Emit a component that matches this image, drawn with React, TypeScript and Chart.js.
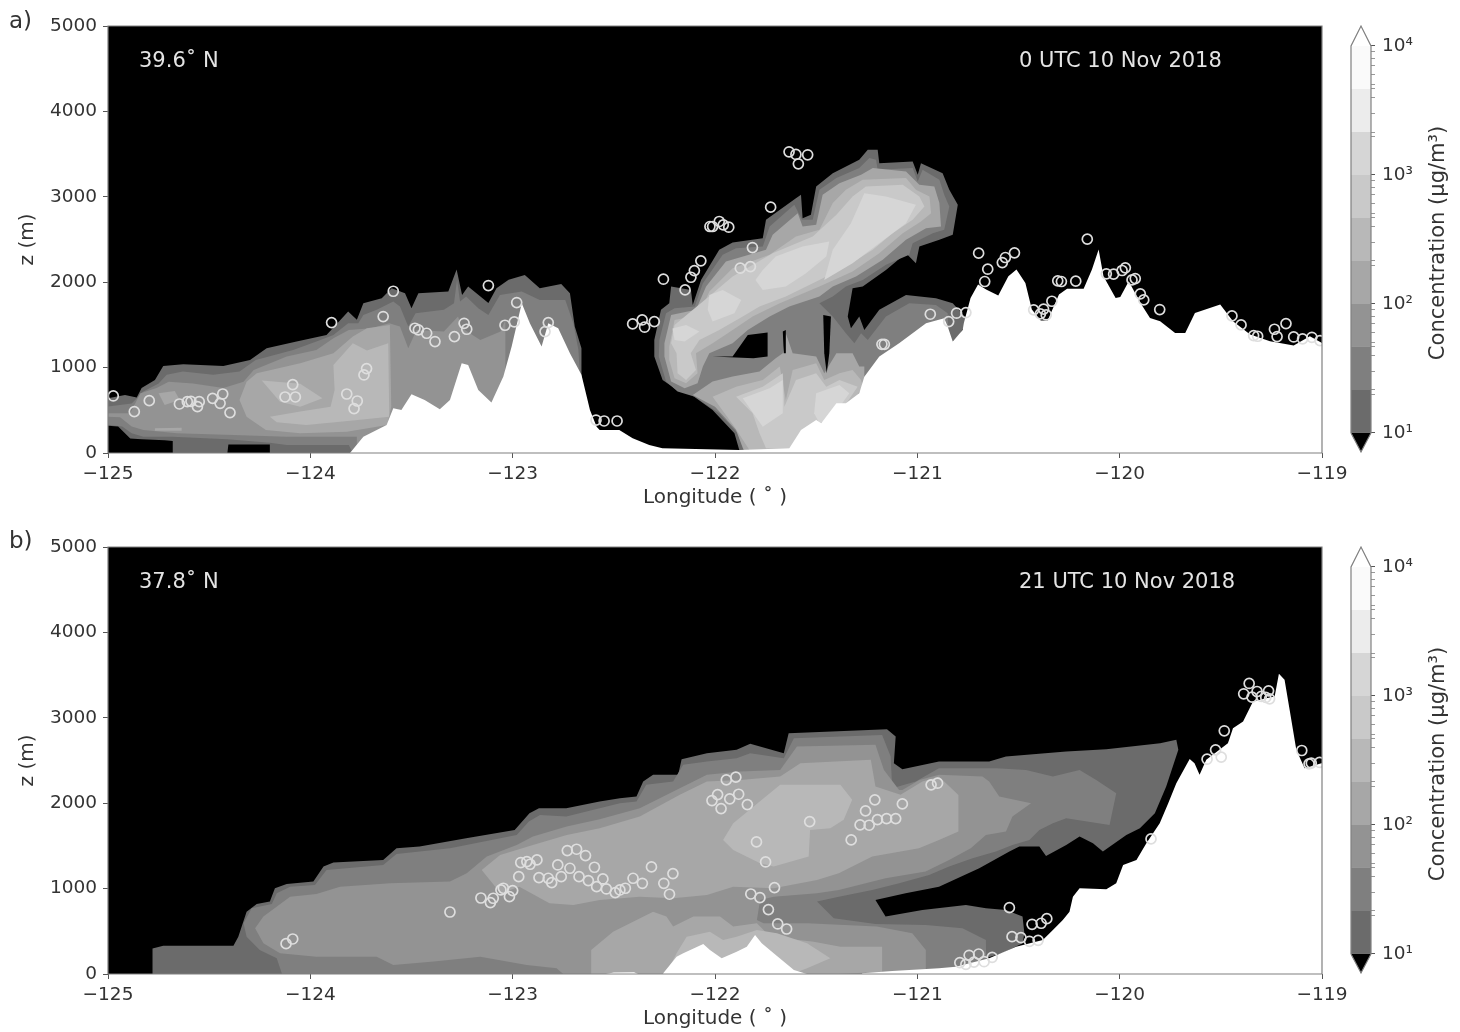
import React, { useEffect, useRef } from "react";
import { Chart, registerables } from "chart.js";

Chart.register(...registerables);

// ---- shared values ----
const LON_RANGE = [-125, -119];
const Z_RANGE = [0, 5000];
const LEVELS = [10, 21.54, 46.42, 100, 215.4, 464.2, 1000, 2154, 4642, 10000];
const BAND_COLORS = ["#000000", "#6b6b6b", "#7f7f7f", "#939393", "#a7a7a7", "#b8b8b8", "#c9c9c9", "#d6d6d6", "#ececec", "#fafafa"];
const CB_TICKS = [10, 20, 21.54, 30, 40, 46.42, 50, 60, 70, 80, 90, 100, 200, 215.4, 300, 400, 464.2, 500, 600, 700, 800, 900, 1000, 2000, 2154, 3000, 4000, 4642, 5000, 6000, 7000, 8000, 9000, 10000];
const CB_LABELS: Record<number, string> = { 10: "10¹", 100: "10²", 1000: "10³", 10000: "10⁴" };
const CB_OVER = 14290;
const CB_UNDER = 7.12;

// ---- panel a: contour outlines as lon, z pairs ----
const A1_WEST = [-125,640,-124.916,680,-124.858,650,-124.834,760,-124.768,855,-124.727,1020,-124.628,1040,-124.43,1020,-124.298,1090,-124.216,1227,-124.068,1305,-123.92,1383,-123.813,1656,-123.77,1559,-123.738,1754,-123.647,1813,-123.598,1930,-123.532,1870,-123.5,1695,-123.466,1871,-123.318,1890,-123.277,2150,-123.25,1850,-123.22,1950,-123.12,1755,-123.08,1930,-123.02,2030,-122.94,2085,-122.866,1930,-122.76,1980,-122.717,1870,-122.693,1480,-122.66,1227,-122.66,0,-124.2,0,-124.2,100,-124.405,100,-124.41,0,-124.68,0,-124.68,140,-124.72,150,-124.834,160,-124.89,170,-124.95,310,-125,320];
const A2_WEST = [-125,545,-124.883,580,-124.825,720,-124.75,815,-124.71,915,-124.63,955,-124.48,915,-124.35,955,-124.27,1090,-124.085,1207,-123.97,1305,-123.886,1383,-123.813,1520,-123.763,1520,-123.738,1617,-123.672,1676,-123.59,1773,-123.557,1715,-123.516,1480,-123.48,1637,-123.34,1676,-123.29,1754,-123.275,2030,-123.26,1773,-123.23,1832,-123.17,1695,-123.12,1617,-123.063,1850,-122.955,1890,-122.866,1793,-122.74,1793,-122.7,1520,-122.675,1207,-122.67,1010,-122.67,0,-123.79,0,-123.81,95,-124.117,95,-124.2,120,-124.41,160,-124.68,190,-124.825,190,-124.883,230,-124.93,310,-125,330];
const A3_WEST = [-125,465,-124.89,465,-124.84,700,-124.76,760,-124.7,835,-124.58,815,-124.43,760,-124.33,835,-124.28,973,-124.117,1129,-123.97,1207,-123.886,1344,-123.81,1441,-123.7,1461,-123.61,1520,-123.557,1480,-123.516,1227,-123.475,1441,-123.34,1422,-123.27,1598,-123.25,1461,-123.16,1324,-123.06,1422,-123.036,1559,-123.036,0,-123.77,0,-123.77,190,-124.117,190,-124.38,210,-124.66,230,-124.825,270,-124.883,310,-124.94,420,-125,425];
const A4_WEST = [-124.315,835,-124.265,933,-124.05,1050,-123.886,1168,-123.79,1363,-123.72,1461,-123.607,1500,-123.6,543,-123.62,328,-123.82,250,-124.05,230,-124.22,270,-124.315,425,-124.35,620];
const A4_BLOB = [-124.75,700,-124.67,727,-124.645,620,-124.72,562];
const A4_STRIP = [-124.768,290,-124.636,297,-124.636,262,-124.768,262];
const A5_WEST = [-123.886,1031,-123.79,1285,-123.72,1200,-123.615,1285,-123.61,425,-123.79,380,-124.02,328,-124.166,360,-124.2,425,-124.05,485,-123.9,543,-123.88,738];
const A5_WEDGE = [-124.24,848,-124.05,810,-123.94,640,-124.05,543,-124.15,600];
const A1_PLUME = [-121.88,35,-121.904,230,-122.012,504,-122.127,700,-122.2,758,-122.259,855,-122.3,1129,-122.3,1324,-122.267,1676,-122.226,1754,-122.217,1949,-122.119,1910,-122.11,1734,-122.069,2027,-121.979,2379,-121.913,2465,-121.764,2515,-121.748,2730,-121.6,2984,-121.575,3023,-121.567,2750,-121.526,2789,-121.5,3121,-121.418,3277,-121.287,3433,-121.245,3550,-121.196,3550,-121.188,3394,-121.023,3414,-120.998,3258,-120.982,3394,-120.875,3277,-120.842,3082,-120.8,2906,-120.825,2555,-120.891,2496,-120.99,2418,-121.007,2222,-121.056,2340,-121.155,2144,-121.27,1949,-121.32,1930,-121.344,1598,-121.328,1461,-121.287,1598,-121.262,1441,-121.188,1676,-121.056,1851,-120.908,1812,-120.825,1754,-120.751,1558,-120.792,1383,-120.825,1305,-120.825,1168,-121.32,152,-121.616,16];
const A2_PLUME = [-121.863,55,-121.888,230,-121.979,465,-122.1,660,-122.185,719,-122.242,836,-122.278,1129,-122.275,1324,-122.242,1637,-122.2,1695,-122.1,1715,-122.06,1988,-121.962,2320,-121.896,2398,-121.764,2418,-121.73,2652,-121.608,2906,-121.57,2730,-121.517,2730,-121.484,3082,-121.4,3219,-121.287,3336,-121.237,3453,-121.204,3433,-121.196,3316,-121.023,3336,-120.998,3180,-120.974,3316,-120.891,3199,-120.867,3023,-120.842,2887,-120.867,2613,-120.924,2574,-121.023,2457,-121.04,2320,-121.155,2203,-121.27,2027,-121.353,1949,-121.418,1832,-121.484,1754,-121.418,1598,-121.353,1402,-121.311,1285,-121.278,1402,-121.245,1324,-121.155,1598,-121.04,1754,-120.908,1734,-120.85,1637,-120.842,1168,-121.32,152,-121.6,16];
const A3_UPPER = [-122.25,1129,-122.25,1285,-122.217,1617,-122.094,1676,-122.044,1949,-121.946,2242,-121.748,2379,-121.715,2555,-121.591,2808,-121.567,2652,-121.5,2672,-121.468,3023,-121.385,3160,-121.278,3258,-121.22,3336,-121.056,3297,-120.99,3140,-120.916,3121,-120.891,2926,-120.883,2652,-120.957,2633,-121.056,2496,-121.171,2262,-121.303,2066,-121.418,1949,-121.484,1832,-121.633,1715,-121.73,1598,-121.838,1441,-121.913,1285,-122.028,1168,-122.06,1012,-122.086,816,-122.15,758,-122.217,836];
const A3_LOWER = [-122.11,680,-122.012,836,-121.913,895,-121.78,953,-121.7,1109,-121.665,1168,-121.65,1402,-121.616,1168,-121.5,1129,-121.46,934,-121.4,1168,-121.32,1168,-121.287,1012,-121.262,1012,-121.262,777,-121.418,152,-121.616,16,-121.855,16,-121.896,270,-122,543];
const A4_UPPER = [-122.226,1246,-122.2,1558,-122.077,1617,-122.028,1890,-121.913,2164,-121.73,2320,-121.6,2535,-121.484,2613,-121.418,2926,-121.353,3082,-121.27,3199,-121.056,3219,-121.007,3082,-120.94,3004,-120.932,2808,-120.982,2711,-121.072,2574,-121.188,2340,-121.32,2125,-121.484,1949,-121.68,1754,-121.814,1598,-121.913,1441,-122.012,1285,-122.094,1168,-122.086,934,-122.143,816,-122.2,875,-122.226,1090];
const A4_LOWER = [-122.012,660,-121.896,777,-121.764,855,-121.68,1012,-121.65,621,-121.616,973,-121.5,1050,-121.46,855,-121.385,934,-121.32,973,-121.278,855,-121.27,777,-121.4,308,-121.6,35,-121.83,35,-121.904,308];
const A5_UPPER = [-122.2,1500,-122.03,1832,-121.913,2066,-121.715,2340,-121.517,2535,-121.4,2789,-121.32,3004,-121.254,3121,-121.072,3140,-120.99,3004,-120.965,2887,-121.023,2730,-121.122,2574,-121.22,2379,-121.353,2184,-121.484,2027,-121.65,1832,-121.78,1715,-121.863,1598,-121.979,1441,-122.077,1324,-122.12,1168,-122.094,973,-122.143,855,-122.185,934,-122.19,1168,-122.217,1285];
const A5_LOWER = [-121.896,660,-121.764,777,-121.665,934,-121.657,543,-121.6,855,-121.5,934,-121.45,777,-121.385,855,-121.295,777,-121.418,348,-121.583,230,-121.633,55,-121.748,55,-121.78,230,-121.814,465];
const A6_BLOB_A = [-122.21,1457,-122.143,1500,-122.077,1422,-122.15,1305,-122.2,1324];
const A6_BLOB_B = [-122.028,1851,-121.962,1910,-121.87,1793,-121.904,1637,-122.012,1539,-122.036,1676];
const A6_BLOB_C = [-121.764,2144,-121.7,2300,-121.567,2418,-121.435,2476,-121.45,2300,-121.55,2105,-121.65,1949,-121.764,1910,-121.8,2027];
const A6_BLOB_D = [-121.46,2027,-121.418,2379,-121.328,2691,-121.262,3043,-121.155,3004,-121.007,2906,-121.056,2691,-121.188,2457,-121.32,2222];
const A6_LOW_E = [-121.5,700,-121.385,797,-121.336,700,-121.418,426,-121.484,348,-121.51,465];
const A6_LOW_W = [-121.863,640,-121.73,758,-121.665,855,-121.665,465,-121.764,308,-121.8,426];
const A0_HOLE = [-122.012,1129,-121.913,1129,-121.838,1383,-121.74,1410,-121.74,1129,-121.81,1110];
const A0_SLIVER = [-121.665,1422,-121.65,1441,-121.65,1168,-121.66,1168];
const A0_SLIT = [-121.465,1617,-121.427,1598,-121.435,1168,-121.448,934,-121.46,1168];
const A_TERRAIN = [-123.804,0,-123.738,190,-123.623,328,-123.59,523,-123.55,504,-123.5,688,-123.435,621,-123.36,512,-123.31,621,-123.252,1050,-123.22,1030,-123.17,738,-123.105,590,-123.046,895,-123.005,1246,-122.955,1754,-122.915,1520,-122.857,1246,-122.824,1520,-122.775,1461,-122.717,1168,-122.66,915,-122.618,504,-122.585,308,-122.57,270,-122.473,270,-122.407,172,-122.325,94,-122.26,55,-121.88,35,-121.633,55,-121.575,270,-121.5,387,-121.475,348,-121.4,582,-121.353,582,-121.287,700,-121.262,894,-121.188,1129,-121.09,1285,-120.957,1519,-120.867,1578,-120.85,1480,-120.825,1305,-120.776,1441,-120.77,1523,-120.737,1816,-120.7,1972,-120.66,1914,-120.6,1844,-120.55,2070,-120.51,2148,-120.466,1992,-120.434,1680,-120.39,1551,-120.356,1551,-120.3,1855,-120.26,1922,-120.178,1922,-120.137,2148,-120.104,2383,-120.08,2070,-120.02,1816,-119.997,1828,-119.955,2012,-119.898,1758,-119.85,1582,-119.8,1543,-119.726,1406,-119.676,1406,-119.628,1640,-119.503,1738,-119.44,1543,-119.355,1387,-119.257,1308,-119.14,1258,-119.06,1367,-119,1289,-119,0];
const A_OBS = [-124.974,668,-124.87,484,-124.796,613,-124.647,574,-124.608,601,-124.59,605,-124.549,601,-124.558,543,-124.483,640,-124.433,691,-124.446,582,-124.397,473,-124.087,801,-124.125,656,-124.074,656,-123.82,691,-123.768,609,-123.784,520,-123.722,988,-123.735,914,-123.895,1527,-123.64,1598,-123.59,1894,-123.483,1461,-123.466,1441,-123.425,1402,-123.384,1305,-123.288,1363,-123.24,1519,-123.227,1449,-123.12,1961,-123.038,1496,-122.992,1535,-122.98,1762,-122.824,1527,-122.84,1422,-122.588,386,-122.548,375,-122.484,375,-122.407,1512,-122.36,1558,-122.348,1473,-122.3,1539,-122.255,2035,-122.148,1910,-122.119,2058,-122.102,2136,-122.07,2250,-122.025,2652,-122.012,2652,-121.979,2711,-121.959,2672,-121.932,2644,-121.815,2406,-121.875,2164,-121.825,2183,-121.725,2879,-121.634,3527,-121.6,3496,-121.588,3386,-121.542,3492,-121.163,1273,-121.175,1273,-120.936,1625,-120.845,1539,-120.806,1637,-120.76,1644,-120.697,2340,-120.652,2152,-120.58,2230,-120.565,2289,-120.52,2344,-120.667,2008,-120.425,1676,-120.392,1629,-120.376,1684,-120.363,1617,-120.335,1777,-120.306,2016,-120.288,2008,-120.217,2012,-120.16,2504,-120.066,2098,-120.03,2094,-119.988,2137,-119.972,2168,-119.939,2027,-119.923,2043,-119.898,1863,-119.881,1793,-119.802,1680,-119.445,1605,-119.4,1500,-119.338,1375,-119.318,1367,-119.235,1449,-119.222,1363,-119.178,1515,-119.14,1359,-119.096,1336,-119.05,1355,-119.01,1316];

// ---- panel b: contour outlines as lon, z pairs ----
const B1_MAIN = [-124.78,0,-124.78,300,-124.727,332,-124.38,332,-124.356,437,-124.315,730,-124.265,820,-124.2,848,-124.175,1004,-124.117,1055,-123.985,1082,-123.935,1258,-123.886,1305,-123.64,1336,-123.574,1473,-123.46,1492,-123.23,1590,-122.99,1687,-122.917,1883,-122.87,1941,-122.735,1941,-122.57,2019,-122.47,2058,-122.388,2078,-122.355,2254,-122.306,2332,-122.182,2332,-122.165,2515,-122.04,2586,-121.893,2625,-121.826,2695,-121.66,2586,-121.636,2820,-121.15,2867,-121.107,2781,-121.116,2469,-121.074,2398,-120.893,2488,-120.645,2488,-120.562,2547,-120.264,2605,-120.066,2633,-119.8,2703,-119.72,2742,-119.71,2625,-119.77,2195,-119.826,1883,-119.9,1707,-119.967,1629,-120.083,1433,-120.132,1531,-120.198,1609,-120.264,1512,-120.364,1383,-120.397,1492,-120.496,1492,-120.545,1433,-120.694,1238,-120.893,1023,-121.058,945,-121.207,867,-121.157,672,-120.975,750,-120.76,808,-120.661,769,-120.562,750,-120.48,672,-120.471,476,-120.48,360,-120.58,242,-120.81,86,-121.09,8,-121.09,0];
const B2_MAIN = [-124.14,0,-124.166,184,-124.25,281,-124.315,437,-124.33,594,-124.29,770,-124.19,820,-124.166,945,-124.1,1023,-123.977,1043,-123.92,1219,-123.64,1277,-123.574,1406,-123.31,1473,-122.98,1629,-122.92,1785,-122.865,1863,-122.735,1844,-122.57,1941,-122.47,2000,-122.388,2020,-122.34,2215,-122.207,2254,-122.157,2449,-122.04,2488,-121.893,2527,-121.826,2586,-121.66,2527,-121.61,2762,-121.174,2800,-121.132,2547,-121.124,2176,-121.008,2254,-120.893,2410,-120.727,2410,-120.61,2410,-120.463,2390,-120.33,2312,-120.198,2390,-120.116,2273,-120.017,2117,-120.05,1746,-120.264,1824,-120.33,1765,-120.397,1687,-120.446,1570,-120.53,1512,-120.612,1433,-120.727,1355,-120.843,1258,-120.942,1160,-121.09,1062,-121.223,984,-121.388,906,-121.496,848,-121.413,652,-121.207,586,-120.958,574,-120.777,535,-120.661,398,-120.66,66,-121.09,0];
const B3_MAIN = [-124.273,535,-124.232,672,-124.1,906,-123.97,937,-123.853,1023,-123.606,1062,-123.31,1082,-123.227,1180,-123.128,1375,-122.98,1512,-122.9,1609,-122.733,1726,-122.57,1812,-122.372,1941,-122.174,2176,-122.04,2332,-121.876,2371,-121.678,2390,-121.595,2664,-121.207,2683,-121.165,2390,-121.09,2156,-121.074,2156,-120.99,2273,-120.893,2332,-120.678,2312,-120.645,2254,-120.595,2078,-120.438,2000,-120.53,1844,-120.562,1668,-120.661,1629,-120.736,1473,-120.843,1336,-120.959,1200,-121.157,1121,-121.388,984,-121.496,945,-121.71,906,-121.777,867,-121.793,633,-121.76,594,-121.545,594,-121.2,555,-121.025,477,-120.958,281,-120.958,47,-121.174,8,-121.174,0,-122.75,0,-122.783,66,-122.93,105,-123.16,203,-123.39,145,-123.59,105,-123.672,203,-123.97,203,-124.15,242,-124.232,359];
const B4_MAIN = [-123.153,1219,-123.062,1394,-122.9,1512,-122.733,1629,-122.57,1707,-122.372,1844,-122.174,2098,-122.04,2254,-121.876,2273,-121.678,2312,-121.578,2469,-121.23,2508,-121.207,2195,-121.083,2098,-120.975,2254,-120.893,2312,-120.797,2097,-120.797,1668,-120.893,1570,-120.992,1473,-121.223,1375,-121.388,1180,-121.496,1101,-121.71,1004,-121.91,1023,-122.04,926,-122.207,886,-122.372,906,-122.57,867,-122.7,808,-122.818,828,-122.967,1023,-123.06,945];
const B4_LOWER = [-122.612,86,-122.612,281,-122.504,496,-122.306,730,-122.24,672,-122.207,555,-122.107,672,-121.975,672,-121.91,555,-121.793,594,-121.727,437,-121.512,379,-121.38,320,-121.174,320,-121.174,27,-121.39,0,-122.612,0];
const B5_BLOB = [-121.96,1570,-121.91,1766,-121.678,2215,-121.38,2215,-121.322,2039,-121.364,1805,-121.43,1707,-121.53,1687,-121.537,1375,-121.71,1258,-121.777,1297,-121.91,1453];
const B5_LOWER = [-122.24,8,-122.19,242,-122.14,437,-122.025,496,-121.96,398,-121.893,437,-121.793,516,-121.694,476,-121.545,359,-121.43,184,-121.545,66,-121.61,8];
const B_TERRAIN_HUMP = [-122.256,8,-122.19,203,-122.157,242,-122.058,352,-122.025,281,-121.967,184,-121.893,262,-121.843,320,-121.802,457,-121.769,359,-121.71,242,-121.61,47,-121.545,0,-122.256,0];
const B_TERRAIN_SLIVER = [-122.54,0,-122.5,18,-122.4,20,-122.38,0];
const B_TERRAIN_EAST = [-121.273,8,-121.124,35,-120.893,66,-120.81,86,-120.645,184,-120.512,320,-120.38,398,-120.33,516,-120.281,633,-120.248,730,-120.231,906,-120.198,1004,-120.066,992,-120.017,1062,-119.983,1277,-119.917,1336,-119.868,1531,-119.802,1766,-119.76,2000,-119.72,2234,-119.654,2519,-119.63,2469,-119.605,2332,-119.572,2508,-119.465,2703,-119.44,2879,-119.39,2957,-119.341,3191,-119.275,3230,-119.234,3250,-119.213,3516,-119.185,3445,-119.16,3094,-119.127,2625,-119.086,2410,-119.003,2469,-119,2469,-119,0,-121.273,0];
const B_OBS = [-124.12,355,-124.087,410,-123.31,726,-123.157,890,-123.11,836,-123.096,887,-123.058,984,-123.046,1004,-123,977,-123.016,906,-122.97,1140,-122.96,1305,-122.93,1316,-122.914,1285,-122.88,1336,-122.87,1129,-122.824,1121,-122.807,1070,-122.76,1140,-122.777,1277,-122.73,1445,-122.684,1461,-122.64,1387,-122.717,1238,-122.672,1140,-122.626,1094,-122.596,1250,-122.585,1023,-122.554,1113,-122.537,996,-122.493,953,-122.47,984,-122.443,1004,-122.405,1121,-122.359,1062,-122.314,1254,-122.253,1062,-122.208,1176,-122.225,934,-121.944,2273,-121.897,2305,-121.987,2101,-122.015,2031,-121.97,1937,-121.927,2051,-121.883,2105,-121.84,1984,-121.795,1547,-121.75,1312,-121.706,1012,-121.823,937,-121.778,894,-121.736,754,-121.69,586,-121.646,527,-121.532,1785,-121.327,1570,-121.283,1746,-121.238,1742,-121.256,1910,-121.21,2039,-121.197,1808,-121.152,1820,-121.107,1820,-121.074,1992,-120.932,2215,-120.9,2234,-120.545,777,-120.532,437,-120.488,426,-120.433,582,-120.388,594,-120.36,648,-120.446,383,-120.403,394,-120.63,195,-120.697,234,-120.744,219,-120.72,140,-120.67,144,-120.79,133,-120.76,113,-119.845,1582,-119.483,2848,-119.568,2515,-119.526,2625,-119.498,2539,-119.36,3402,-119.387,3281,-119.346,3242,-119.321,3308,-119.264,3316,-119.3,3250,-119.278,3238,-119.259,3222,-119.1,2617,-119.064,2461,-119.053,2469,-119.012,2477];

// [colour-band index, outline]; painted in this order, low to high
const LAYERS_A: [number, number[]][] = [
  [1, A1_WEST], [1, A1_PLUME], [2, A2_WEST], [2, A2_PLUME], [3, A3_WEST], [4, A3_UPPER], [4, A3_LOWER],
  [4, A4_WEST], [4, A4_BLOB], [4, A4_STRIP], [5, A4_UPPER], [5, A4_LOWER], [5, A5_WEST], [5, A5_WEDGE], [6, A5_UPPER], [6, A5_LOWER],
  [7, A6_BLOB_A], [7, A6_BLOB_B], [7, A6_BLOB_C], [7, A6_BLOB_D], [7, A6_LOW_E], [7, A6_LOW_W],
  [0, A0_HOLE], [0, A0_SLIVER], [0, A0_SLIT],
];
const LAYERS_B: [number, number[]][] = [
  [1, B1_MAIN], [2, B2_MAIN], [3, B3_MAIN], [4, B4_MAIN], [4, B4_LOWER], [5, B5_BLOB], [5, B5_LOWER],
];
const TERRAIN_A = [A_TERRAIN];
const TERRAIN_B = [B_TERRAIN_HUMP, B_TERRAIN_SLIVER, B_TERRAIN_EAST];

const FONT = "'DejaVu Sans'";
const FS = 18.5;
const LABEL_FS = 20;
const TEXT_FS = 21;
const INK = "#333333";
const SPINE = "#808080";

const pairs = (flat: number[]) => {
  const out: { x: number; y: number }[] = [];
  for (let i = 0; i < flat.length; i += 2) out.push({ x: flat[i], y: flat[i + 1] });
  return out;
};
const shape = (data: { x: number; y: number }[], color: string, extra: object = {}) => ({
  data, showLine: true, fill: "shape", backgroundColor: color, borderColor: color, borderWidth: 0, pointRadius: 0, ...extra,
});
const inOrder = (list: any[]) => list.map((d, i) => ({ ...d, order: list.length - i }));

function mainConfig(layers: [number, number[]][], terrain: number[][], obs: number[]): any {
  const box = [LON_RANGE[0], Z_RANGE[0], LON_RANGE[1], Z_RANGE[0], LON_RANGE[1], Z_RANGE[1], LON_RANGE[0], Z_RANGE[1]];
  const paint: any[] = [shape(pairs(box), "#000000")];
  layers.forEach(([band, outline]) => paint.push(shape(pairs(outline), BAND_COLORS[band])));
  terrain.forEach((outline) => paint.push(shape(pairs(outline), "#ffffff")));
  paint.push({
    data: pairs(obs), showLine: false, pointRadius: 5, pointBorderWidth: 1.7,
    pointBorderColor: "#dedede", pointBackgroundColor: "rgba(0,0,0,0)",
  });
  const frame = [...box, box[0], box[1]];
  paint.push({ data: pairs(frame), showLine: true, fill: false, borderColor: SPINE, borderWidth: 1.2, pointRadius: 0, clip: false });
  return {
    type: "scatter",
    data: { datasets: inOrder(paint) },
    options: {
      animation: false, responsive: false, devicePixelRatio: 1,
      layout: { padding: { top: 26, right: 38, left: 0, bottom: 0 } },
      plugins: { legend: { display: false }, tooltip: { enabled: false } },
      scales: {
        x: {
          type: "linear", min: LON_RANGE[0], max: LON_RANGE[1],
          afterFit: (s: any) => { s.height = 58; },
          border: { display: false },
          grid: { drawOnChartArea: false, tickLength: 5, tickColor: "#555" },
          ticks: {
            stepSize: 1, padding: 5, color: INK, maxRotation: 0, font: { family: FONT, size: FS },
            callback: (v: number) => "\u2212" + Math.abs(v),
          },
          title: { display: true, text: "Longitude ( \u02DA )", color: INK, font: { family: FONT, size: LABEL_FS }, padding: { top: 0, bottom: 1 } },
        },
        y: {
          type: "linear", min: Z_RANGE[0], max: Z_RANGE[1],
          afterFit: (s: any) => { s.width = 108; },
          border: { display: false },
          grid: { drawOnChartArea: false, tickLength: 5, tickColor: "#555" },
          ticks: { stepSize: 1000, padding: 6, color: INK, font: { family: FONT, size: FS }, callback: (v: number) => String(v) },
          title: { display: true, text: "z (m)", color: INK, font: { family: FONT, size: LABEL_FS }, padding: { top: 16, bottom: 0 } },
        },
      },
    },
  };
}

function colorbarConfig(): any {
  const paint: any[] = [];
  for (let i = 0; i < LEVELS.length - 1; i++) {
    paint.push(shape(pairs([0, LEVELS[i], 1, LEVELS[i], 1, LEVELS[i + 1], 0, LEVELS[i + 1]]), BAND_COLORS[i + 1]));
  }
  const top = LEVELS[LEVELS.length - 1];
  paint.push(shape(pairs([0, LEVELS[0], 1, LEVELS[0], 0.5, CB_UNDER]), "#000000"));
  paint.push(shape(pairs([0, top, 1, top, 0.5, CB_OVER]), "#ffffff"));
  paint.push({
    data: pairs([0, LEVELS[0], 0.5, CB_UNDER, 1, LEVELS[0], 1, top, 0.5, CB_OVER, 0, top, 0, LEVELS[0]]),
    showLine: true, fill: false, borderColor: SPINE, borderWidth: 1.2, pointRadius: 0, clip: false,
  });
  return {
    type: "scatter",
    data: { datasets: inOrder(paint) },
    options: {
      animation: false, responsive: false, devicePixelRatio: 1,
      layout: { padding: { top: 26, bottom: 21, left: 11, right: 0 } },
      plugins: { legend: { display: false }, tooltip: { enabled: false } },
      scales: {
        x: { type: "linear", min: 0, max: 1, display: false },
        y: {
          type: "logarithmic", position: "right", min: CB_UNDER, max: CB_OVER,
          afterBuildTicks: (s: any) => { s.ticks = CB_TICKS.map((value) => ({ value })); },
          afterFit: (s: any) => { s.width = 89; },
          border: { display: false },
          grid: {
            drawOnChartArea: false, tickLength: 4,
            tickColor: (c: any) => (CB_LABELS[c.tick?.value] ? "#555" : "#999"),
          },
          ticks: {
            autoSkip: false, padding: 7, color: INK, font: { family: FONT, size: FS },
            callback: (v: number) => CB_LABELS[v] ?? "",
          },
        },
      },
    },
  };
}

const textStyle = (left: number, top: number, color = INK, size = TEXT_FS): React.CSSProperties => ({
  position: "absolute", left, top, color, font: `${size}px ${FONT}`, lineHeight: "22px", whiteSpace: "nowrap",
});
const cbTitle = (cy: number): React.CSSProperties => ({
  position: "absolute", left: 1437, top: cy, color: INK, font: `${TEXT_FS}px ${FONT}`, lineHeight: "22px",
  whiteSpace: "nowrap", transform: "translate(-50%, -50%) rotate(-90deg)",
});

export default function App() {
  const a = useRef<HTMLCanvasElement>(null);
  const b = useRef<HTMLCanvasElement>(null);
  const ca = useRef<HTMLCanvasElement>(null);
  const cb = useRef<HTMLCanvasElement>(null);
  useEffect(() => {
    const charts = [
      new Chart(a.current!, mainConfig(LAYERS_A, TERRAIN_A, A_OBS)),
      new Chart(b.current!, mainConfig(LAYERS_B, TERRAIN_B, B_OBS)),
      new Chart(ca.current!, colorbarConfig()),
      new Chart(cb.current!, colorbarConfig()),
    ];
    return () => charts.forEach((c) => c.destroy());
  }, []);
  const abs = (left: number, top: number): React.CSSProperties => ({ position: "absolute", left, top });
  return (
    <div style={{ position: "absolute", left: 0, top: 0, width: 1460, height: 1032, overflow: "hidden", background: "#fff" }}>
      <canvas ref={a} width={1360} height={511} style={abs(0, 0)} />
      <canvas ref={b} width={1360} height={511} style={abs(0, 521)} />
      <canvas ref={ca} width={120} height={473} style={abs(1340, 0)} />
      <canvas ref={cb} width={120} height={473} style={abs(1340, 521)} />
      <div style={textStyle(9, 9, INK, 23)}>a)</div>
      <div style={textStyle(9, 529, INK, 23)}>b)</div>
      <div style={textStyle(139, 49, "#e4e4e4")}>39.6{"\u02DA"} N</div>
      <div style={textStyle(139, 570, "#e4e4e4")}>37.8{"\u02DA"} N</div>
      <div style={textStyle(1019, 49, "#e4e4e4")}>0 UTC 10 Nov 2018</div>
      <div style={textStyle(1019, 570, "#e4e4e4")}>21 UTC 10 Nov 2018</div>
      <div style={cbTitle(243)}>Concentration (μg/m³)</div>
      <div style={cbTitle(764)}>Concentration (μg/m³)</div>
    </div>
  );
}
